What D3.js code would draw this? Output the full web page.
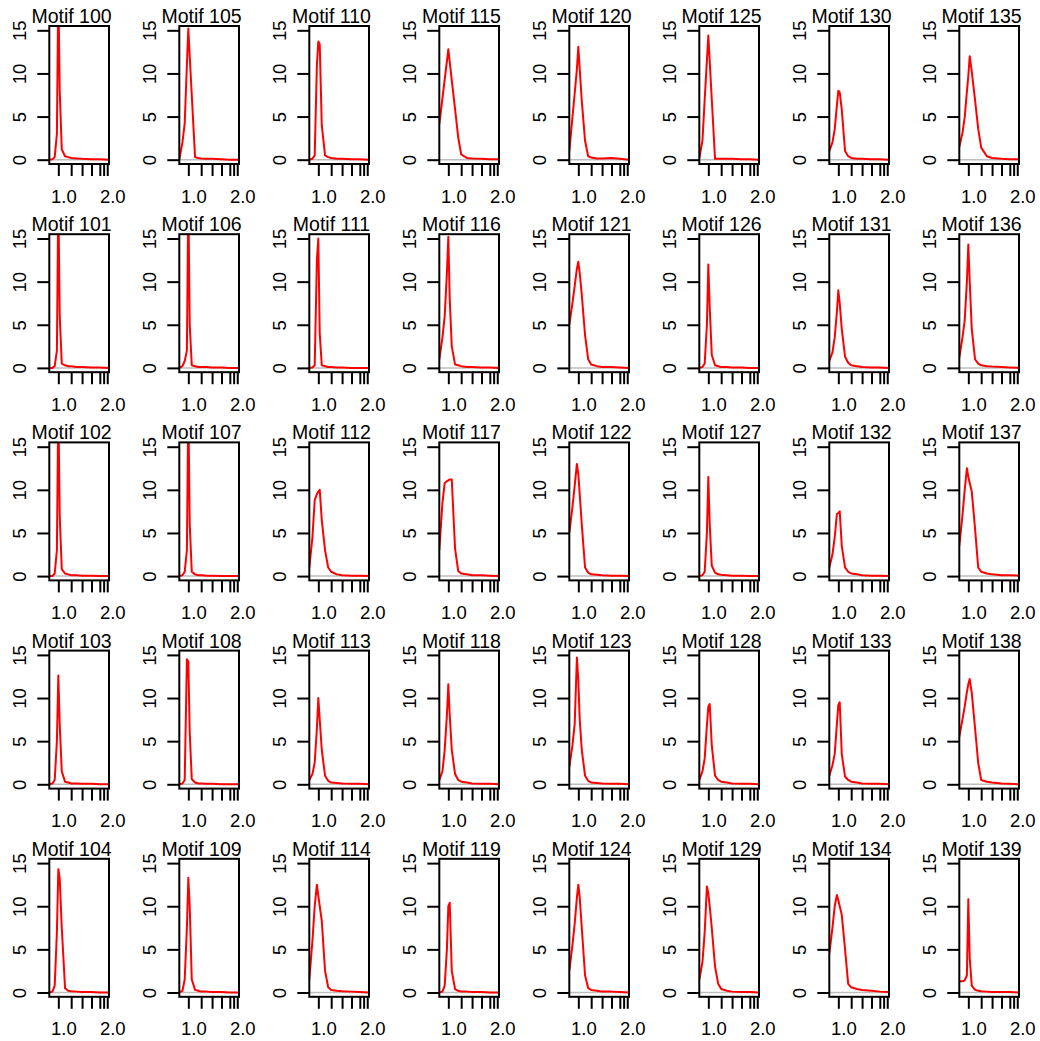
<!DOCTYPE html>
<html>
<head>
<meta charset="utf-8">
<script src="https://cdn.jsdelivr.net/npm/d3@7"></script>
<style>
  body { margin: 0; background: #fff; }
  svg text { font-family: "Liberation Sans", Arial, Helvetica, sans-serif; }
</style>
</head>
<body>
<svg id="chart" width="1040" height="1041"></svg>
<script>
// motif ids, drawn column by column (5 per column)
const motifs = [100, 101, 102, 103, 104, 105, 106, 107, 108, 109,
                110, 111, 112, 113, 114, 115, 116, 117, 118, 119,
                120, 121, 122, 123, 124, 125, 126, 127, 128, 129,
                130, 131, 132, 133, 134, 135, 136, 137, 138, 139];

// x positions where each curve is sampled
const xGrid = [0.88, 0.92, 0.95, 0.98, 1.0, 1.02, 1.05, 1.1, 1.15, 1.2, 1.3, 1.4, 1.6, 1.8, 2.05];

// density values, one row per motif
const dens = [
  [0, 0.05, 0.3, 3, 20, 8, 1.2, 0.4, 0.3, 0.2, 0.15, 0.1, 0.05, 0.05, 0],        // 100
  [0, 0, 0.2, 2, 20, 6, 0.5, 0.3, 0.2, 0.2, 0.1, 0.1, 0.05, 0.05, 0],            // 101
  [0, 0, 0.3, 3, 20, 7, 0.8, 0.3, 0.2, 0.1, 0.1, 0.05, 0.05, 0, 0],              // 102
  [0, 0.1, 0.5, 5, 12.6, 7, 1.5, 0.3, 0.2, 0.1, 0.1, 0.05, 0.05, 0, 0],          // 103
  [0, 0.1, 0.8, 7, 14.3, 13.2, 7.5, 0.5, 0.2, 0.15, 0.1, 0.05, 0.05, 0, 0],      // 104
  [0, 2.0, 4.2, 11, 15.2, 12, 7.5, 0.3, 0.2, 0.15, 0.1, 0.1, 0.05, 0, 0],        // 105
  [0, 0.2, 0.8, 2, 20, 5, 0.3, 0.2, 0.1, 0.1, 0.1, 0.05, 0.05, 0, 0],            // 106
  [0, 0.1, 0.5, 3, 20, 6, 0.5, 0.2, 0.1, 0.1, 0.05, 0.05, 0, 0, 0],              // 107
  [0, 0.1, 0.5, 14.5, 14.2, 6, 0.6, 0.2, 0.1, 0.1, 0.05, 0.05, 0, 0, 0],         // 108
  [0, 0.2, 1.5, 7.5, 13.3, 10, 1.5, 0.3, 0.2, 0.1, 0.1, 0.05, 0.05, 0, 0],       // 109
  [0, 0.1, 0.5, 11, 13.7, 13.4, 4, 0.5, 0.3, 0.2, 0.1, 0.1, 0.05, 0.05, 0],      // 110
  [0, 0.05, 0.3, 12.5, 15.0, 4, 0.3, 0.2, 0.1, 0.1, 0.05, 0.05, 0, 0, 0],        // 111
  [1.0, 4.5, 8.8, 9.5, 9.8, 10.0, 6.5, 3.0, 1.0, 0.5, 0.2, 0.1, 0.05, 0.05, 0],  // 112
  [0.5, 1.2, 2.5, 6.5, 10.0, 7.5, 4.0, 1.0, 0.4, 0.2, 0.15, 0.1, 0.05, 0.05, 0], // 113
  [1.5, 6.0, 10.0, 12.5, 11.2, 10.0, 8.3, 2.5, 0.6, 0.3, 0.2, 0.15, 0.1, 0.05, 0], // 114
  [4.1, 7.1, 9.3, 11.4, 12.8, 11.35, 9.2, 5.9, 2.6, 0.6, 0.2, 0.15, 0.1, 0.05, 0.05], // 115
  [1.0, 3.5, 6.0, 11, 15.2, 8, 2.5, 0.4, 0.3, 0.2, 0.1, 0.1, 0.05, 0.05, 0],     // 116
  [3.0, 8.5, 10.8, 11.0, 11.1, 11.2, 11.2, 3.2, 0.6, 0.3, 0.2, 0.1, 0.1, 0.05, 0], // 117
  [0.5, 1.5, 4, 8, 11.6, 8, 4.0, 1.2, 0.5, 0.3, 0.2, 0.1, 0.05, 0.05, 0],        // 118
  [0, 0.1, 0.8, 5, 10, 10.4, 2.5, 0.4, 0.2, 0.1, 0.1, 0.05, 0.05, 0, 0],         // 119
  [1.0, 4.9, 7.7, 10.5, 13.1, 10.5, 6.8, 2.2, 0.4, 0.25, 0.15, 0.15, 0.2, 0.1, 0], // 120
  [5.0, 7.5, 9.5, 11.5, 12.3, 11, 8.5, 3.8, 1, 0.4, 0.2, 0.1, 0.1, 0.05, 0],     // 121
  [5.0, 8.0, 10.5, 13.0, 11.8, 9.5, 6.0, 1.0, 0.4, 0.2, 0.15, 0.1, 0.05, 0.05, 0], // 122
  [2.0, 4.5, 7, 14.7, 12, 7.5, 4.0, 1.0, 0.4, 0.2, 0.15, 0.1, 0.05, 0.05, 0],    // 123
  [2.5, 5.5, 8.0, 11, 12.5, 11, 7.5, 2.0, 0.5, 0.3, 0.2, 0.1, 0.1, 0.05, 0],     // 124
  [0.2, 2.2, 7.0, 11.5, 14.4, 11.4, 7.0, 0.1, 0.1, 0.1, 0.1, 0.1, 0.05, 0.05, 0], // 125
  [0, 0.1, 0.5, 5, 12, 7, 1.5, 0.3, 0.2, 0.1, 0.1, 0.05, 0.05, 0, 0],            // 126
  [0, 0.1, 0.5, 5, 11.5, 6, 1.2, 0.4, 0.2, 0.15, 0.1, 0.05, 0.05, 0, 0],         // 127
  [0.5, 1.5, 3.0, 6.8, 9.0, 9.3, 4.5, 1.0, 0.5, 0.3, 0.2, 0.1, 0.05, 0.05, 0],   // 128
  [1.5, 3.5, 7.0, 12.3, 11.5, 10, 7.5, 3.0, 1.0, 0.4, 0.2, 0.1, 0.05, 0.05, 0],  // 129
  [1.0, 2.0, 3.5, 6.3, 8.0, 7.8, 5.8, 1.0, 0.4, 0.2, 0.1, 0.1, 0.05, 0.05, 0],   // 130
  [0.8, 1.8, 3.5, 6.5, 9.0, 7.5, 4.5, 1.3, 0.6, 0.3, 0.2, 0.1, 0.05, 0.05, 0],   // 131
  [1.0, 2.5, 4.5, 7.2, 7.3, 7.5, 3.5, 1.0, 0.5, 0.3, 0.2, 0.1, 0.05, 0.05, 0],   // 132
  [1.0, 2.2, 3.5, 7.0, 9.2, 9.5, 3.5, 0.9, 0.5, 0.3, 0.2, 0.1, 0.05, 0.05, 0],   // 133
  [4.5, 7.5, 10.0, 11.3, 10.7, 10.0, 9.0, 5.0, 1.0, 0.6, 0.4, 0.3, 0.2, 0.1, 0.05], // 134
  [1.5, 3.1, 4.9, 7.9, 9.7, 12.0, 10.2, 6.9, 3.6, 1.4, 0.4, 0.2, 0.1, 0.05, 0.05], // 135
  [1.2, 3.5, 5.5, 10, 14.3, 10, 4.5, 1, 0.5, 0.3, 0.2, 0.15, 0.1, 0.05, 0],      // 136
  [3.5, 7.0, 10.0, 12.5, 11.5, 10.8, 9.8, 5.5, 1.0, 0.5, 0.3, 0.2, 0.1, 0.1, 0.05], // 137
  [5.5, 7.5, 9.0, 10.7, 11.6, 12.2, 10.6, 6.5, 2.5, 0.5, 0.3, 0.2, 0.1, 0.05, 0], // 138
  [1.3, 1.3, 1.4, 2.0, 10.8, 4, 0.8, 0.3, 0.2, 0.15, 0.1, 0.05, 0.05, 0.05, 0]   // 139
];

const yTicks = [0, 5, 10, 15];
const xTicks = [1.0, 1.2, 1.4, 1.6, 1.8, 1.9, 2.0];
const xLabels = [1.0, 2.0];

const svg = d3.select('#chart');
const cellW = 130, cellH = 1041 / 5;
const box = { l: 49.3, r: 109, t: 26, b: 164 }; // plot region inside one cell

const x = d3.scaleLog().domain([0.88, 2.05]).range([box.l, box.r]);
const y = d3.scaleLinear().domain([-0.5, 15.5]).range([box.b, box.t]);

svg.append('defs').append('clipPath').attr('id', 'plotClip')
  .append('rect')
  .attr('x', box.l).attr('y', box.t)
  .attr('width', box.r - box.l).attr('height', box.b - box.t);

const line = d3.line()
  .x((d, i) => x(xGrid[i]))
  .y(d => y(d));

motifs.forEach((m, i) => {
  const col = Math.floor(i / 5), row = i % 5;
  const g = svg.append('g')
    .attr('transform', `translate(${col * cellW},${row * cellH})`);

  // grey zero line
  g.append('line')
    .attr('x1', box.l).attr('x2', box.r)
    .attr('y1', y(0)).attr('y2', y(0))
    .attr('stroke', '#bebebe').attr('stroke-width', 1.5);

  g.append('path')
    .attr('d', line(dens[i]))
    .attr('fill', 'none')
    .attr('stroke', '#ff0000')
    .attr('stroke-width', 2)
    .attr('stroke-linejoin', 'round')
    .attr('clip-path', 'url(#plotClip)');

  // box
  g.append('rect')
    .attr('x', box.l).attr('y', box.t)
    .attr('width', box.r - box.l).attr('height', box.b - box.t)
    .attr('fill', 'none').attr('stroke', '#000').attr('stroke-width', 2);

  // x axis
  const xa = g.append('g')
    .attr('transform', `translate(0,${box.b})`)
    .call(d3.axisBottom(x).tickValues(xTicks).tickSize(12)
      .tickFormat(d => xLabels.includes(d) ? d3.format('.1f')(d) : ''));
  xa.select('.domain').remove();
  xa.selectAll('line').attr('stroke', '#000').attr('stroke-width', 2);
  xa.selectAll('text')
    .attr('y', 38.5).attr('dy', 0).attr('dx', 5)
    .attr('font-size', 18.5).attr('fill', '#000')
    .style('font-family', '"Liberation Sans", Arial, sans-serif');

  // y axis, labels turned like R's las = 0
  const ya = g.append('g')
    .attr('transform', `translate(${box.l},0)`)
    .call(d3.axisLeft(y).tickValues(yTicks).tickSize(12));
  ya.select('.domain').remove();
  ya.selectAll('line').attr('stroke', '#000').attr('stroke-width', 2);
  ya.selectAll('text')
    .attr('x', null).attr('dy', 0)
    .attr('transform', 'translate(-23.3,0) rotate(-90)')
    .attr('text-anchor', 'middle')
    .attr('font-size', 18.5).attr('fill', '#000')
    .style('font-family', '"Liberation Sans", Arial, sans-serif');

  // title
  g.append('text')
    .attr('x', 71.5).attr('y', 23)
    .attr('text-anchor', 'middle')
    .attr('font-size', 19.5)
    .text('Motif ' + m);
});
</script>
</body>
</html>
